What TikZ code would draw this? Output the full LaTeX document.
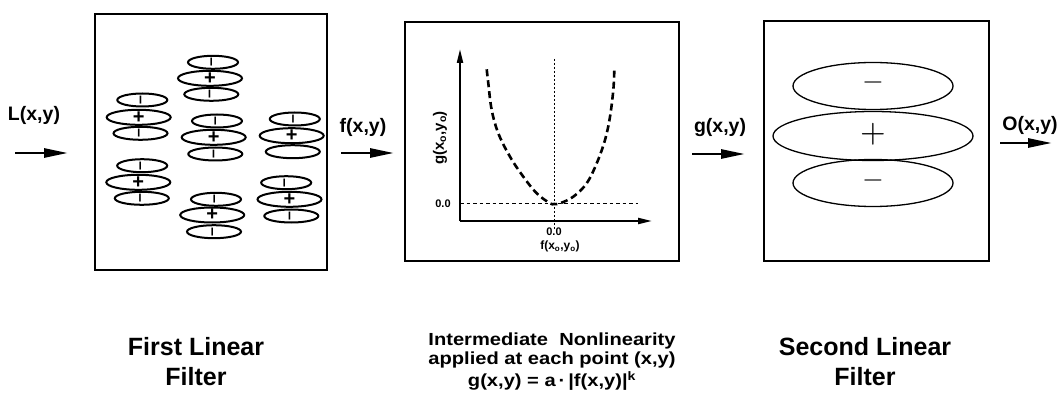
\documentclass[tikz,border=0pt]{standalone}
\usepackage{fontspec}
\setmainfont{Liberation Sans}
\newfontfamily\widefont[FakeStretch=1.15]{Liberation Sans}
\usetikzlibrary{arrows.meta}
\newcommand\lobe[5]{%
  \draw[lobe] (#1,#2) ellipse [x radius=#3, y radius=#4];
  \node[sgn] at (#1,#2) {#5};}
\newcommand\pl{\fontsize{20}{20}\selectfont\bfseries +}
\newcommand\mn{\rotatebox{90}{\fontsize{16}{16}\selectfont\bfseries –}}
\begin{document}
\begin{tikzpicture}[x=1pt,y=-1pt,
  frame/.style={draw, line width=2pt, inner sep=0pt, anchor=north west},
  lobe/.style={line width=2pt},
  biglobe/.style={line width=1.3pt},
  sgn/.style={inner sep=0pt},
  bigsgn/.style={inner sep=0pt},
  lab/.style={inner sep=0pt, font=\fontsize{19.5}{19.5}\selectfont\bfseries},
  title/.style={inner sep=0pt, align=center, font=\fontsize{25}{30}\selectfont\bfseries},
  bigarrow/.style={line width=2.8pt, -{Triangle[length=24pt,width=9pt]}},
  axis/.style={line width=2pt},
  axtip/.style={-{Triangle[length=14pt,width=6pt]}},
  curve/.style={line width=2.6pt, dash pattern=on 7pt off 4pt},
  ref/.style={line width=1pt, dash pattern=on 3.5pt off 3pt},
  refdot/.style={line width=1pt, dash pattern=on 2pt off 2pt},
  small/.style={inner sep=0pt, font=\fontsize{11}{11}\selectfont\bfseries}]
\useasboundingbox (0,0) rectangle (1057,414);

% boxes
\node[frame, minimum width=232pt, minimum height=256pt] (box1) at (94,13) {};
\node[frame, minimum width=274pt, minimum height=239pt] (box2) at (404,21) {};
\node[frame, minimum width=225pt, minimum height=240pt] (box3) at (763,20) {};

% arrows and labels
\coordinate (Ls) at (15,153); \coordinate (Le) at (68,153);
\coordinate (fs) at (341,153); \coordinate (fe) at (394,153);
\coordinate (gs) at (692,154); \coordinate (ge) at (745,154);
\coordinate (Os) at (1000,143); \coordinate (Oe) at (1052,143);
\draw[bigarrow] (Ls) -- (Le);
\draw[bigarrow] (fs) -- (fe);
\draw[bigarrow] (gs) -- (ge);
\draw[bigarrow] (Os) -- (Oe);
\node[lab] (Lt) at (34,115) {L(x,y)};
\node[lab] (ft) at (363,127) {f(x,y)};
\node[lab] (gt) at (720,128) {g(x,y)};
\node[lab] (Ot) at (1030,125) {O(x,y)};

% first filter lobes
\lobe{142.3}{100}{25}{6.5}{\mn}
\lobe{138.7}{117.3}{32}{7.5}{\pl}
\lobe{140.5}{133.3}{27}{6.5}{\mn}
\lobe{142.2}{165.7}{25}{6.5}{\mn}
\lobe{138.3}{182.3}{32}{7.5}{\pl}
\lobe{141.8}{198.3}{27}{6.5}{\mn}
\lobe{213}{62.3}{25}{6.5}{\mn}
\lobe{210}{78.3}{32}{7.5}{\pl}
\lobe{211.3}{94.3}{27}{6.5}{\mn}
\lobe{217}{121}{25}{6.5}{\mn}
\lobe{213.7}{137.3}{32}{7.5}{\pl}
\lobe{215.3}{154}{27}{6.5}{\mn}
\lobe{216}{199.3}{25}{6.5}{\mn}
\lobe{212.2}{215}{32}{7.5}{\pl}
\lobe{214}{231.7}{27}{6.5}{\mn}
\lobe{294.8}{119}{25}{6.5}{\mn}
\lobe{291.7}{135.7}{32}{7.5}{\pl}
\lobe{292.8}{151.7}{27}{6.5}{}
\lobe{286.2}{182.7}{25}{6.5}{\mn}
\lobe{289.5}{199.3}{32}{7.5}{\pl}
\lobe{291.3}{216}{27}{6.5}{\mn}

% second filter lobes
\draw[biglobe] (873,86) ellipse [x radius=80, y radius=23.5];
\draw[biglobe] (873,136) ellipse [x radius=100, y radius=24.5];
\draw[biglobe] (873,183) ellipse [x radius=80, y radius=23.5];
\node[bigsgn] (m1) at (873,83) {\scalebox{2.8}{$-$}};
\node[bigsgn] (p1) at (873,134) {\scalebox{3.3}{$+$}};
\node[bigsgn] (m2) at (873,181) {\scalebox{2.8}{$-$}};

% nonlinearity graph
\coordinate (org) at (460,221);
\coordinate (ytip) at (460,49);
\coordinate (xtip) at (652,221);
\coordinate (z0) at (460,204);
\coordinate (z1) at (638,204);
\coordinate (v0) at (554,59);
\coordinate (v1) at (554,230);
\draw[ref] (z0) -- (z1);
\draw[refdot] (v0) -- (v1);
\draw[axis, axtip] (org) -- (ytip);
\draw[axis, axtip] (org) -- (xtip);
\draw[curve] plot[smooth, tension=0.6] coordinates {(486.7,69.3) (488.3,83.3) (491.7,110) (498.3,133.3) (510,156.7) (523.3,176.7) (536.7,193.3) (550,203.3) (554,204) (560,203.3) (573.3,196.7) (586.7,183.3) (596.7,163.3) (605,140) (610,116.7) (613.3,90) (614.3,70.7)};
\node[small] (zy) at (443,204) {0.0};
\node[small] (zx) at (554,232) {0.0};
\node[small, font=\fontsize{12}{12}\selectfont\bfseries] (fx) at (560,246.5) {f(x\textsubscript{o},y\textsubscript{o})};
\node[small, font=\fontsize{15}{15}\selectfont\bfseries, rotate=90] (gy) at (440,138) {g(x\textsubscript{o},y\textsubscript{o})};

% captions
\node[title] (t1) at (196,362) {First Linear\\Filter};
\node[title] (t3) at (865,362) {Second Linear\\Filter};
\node[inner sep=0pt, align=center, font=\widefont\fontsize{17.5}{19}\selectfont\bfseries] (t2) at (552,362)
  {Intermediate\ \ Nonlinearity\\applied at each point (x,y)\\[3pt]g(x,y) = a\,·\,|f(x,y)|\textsuperscript{k}};
\end{tikzpicture}
\end{document}
